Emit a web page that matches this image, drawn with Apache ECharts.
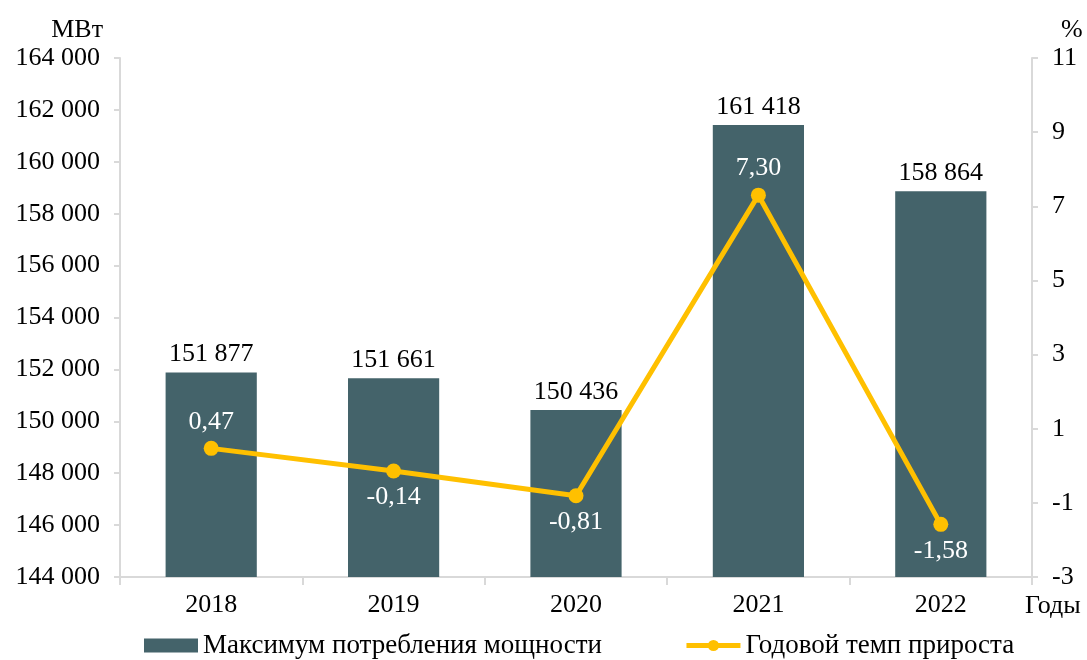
<!DOCTYPE html>
<html><head><meta charset="utf-8">
<script src="https://cdn.jsdelivr.net/npm/echarts@6/dist/echarts.min.js"></script>
<style>html,body{margin:0;padding:0;background:#fff}#c{width:1087px;height:660px}</style>
</head><body><div id="c"></div>
<script>
const categories = ['2018','2019','2020','2021','2022'];
const powerValues = [151877, 151661, 150436, 161418, 158864];
const growthValues = [0.47, -0.14, -0.81, 7.30, -1.58];
const growthLabelPos = ['top','bottom','bottom','top','bottom'];
const seriesNames = ['Максимум потребления мощности', 'Годовой темп прироста'];

const FONT = '"Liberation Serif","Times New Roman",serif';
const FS = 26;
const fmtThousands = v => String(Math.round(v)).replace(/\B(?=(\d{3})+(?!\d))/g, ' ');
const fmtComma = v => v.toFixed(2).replace('.', ',');
const axisLineStyle = {show:true, onZero:false, lineStyle:{color:'#d9d9d9', width:2}};

const chart = echarts.init(document.getElementById('c'));
chart.setOption({
  animation:false,
  textStyle:{fontFamily:FONT},
  grid:{left:120, right:55, top:58, bottom:83, containLabel:false, outerBoundsMode:'none'},
  legend:{
    top:632, left:144, padding:0, itemWidth:54, itemHeight:14, itemGap:82,
    textStyle:{fontFamily:FONT, fontSize:27, color:'#000'},
    data:[{name:seriesNames[0], icon:'rect'},
          {name:seriesNames[1], lineStyle:{width:5, color:'#ffc000'}}]
  },
  xAxis:{
    type:'category', data:categories,
    name:'Годы', nameLocation:'end', nameGap:-7,
    nameTextStyle:{fontFamily:FONT, fontSize:FS, color:'#000', verticalAlign:'top', padding:[16,0,0,0]},
    axisLine:axisLineStyle,
    axisTick:{show:true, length:8, lineStyle:{color:'#d9d9d9', width:2}},
    axisLabel:{fontFamily:FONT, fontSize:FS, color:'#000', margin:15}
  },
  yAxis:[{
    type:'value', min:144000, max:164000, interval:2000,
    name:'МВт', nameLocation:'end', nameGap:15,
    nameTextStyle:{fontFamily:FONT, fontSize:FS, color:'#000', align:'right', padding:[0,17,0,0]},
    axisLine:axisLineStyle,
    axisTick:{show:true, length:6, lineStyle:{color:'#d9d9d9', width:2}},
    splitLine:{show:false},
    axisLabel:{fontFamily:FONT, fontSize:FS, color:'#000', margin:20, formatter:fmtThousands}
  },{
    type:'value', min:-3, max:11, interval:2, position:'right',
    name:'%', nameLocation:'end', nameGap:15,
    nameTextStyle:{fontFamily:FONT, fontSize:FS, color:'#000', align:'left', padding:[0,0,0,29]},
    axisLine:axisLineStyle,
    axisTick:{show:true, length:6, lineStyle:{color:'#d9d9d9', width:2}},
    splitLine:{show:false},
    axisLabel:{fontFamily:FONT, fontSize:FS, color:'#000', margin:20}
  }],
  series:[{
    name:seriesNames[0], type:'bar', data:powerValues, barWidth:'50%',
    itemStyle:{color:'#44636a'},
    label:{show:true, position:'top', distance:5, fontFamily:FONT, fontSize:FS, color:'#000', formatter:p=>fmtThousands(p.value)}
  },{
    name:seriesNames[1], type:'line', yAxisIndex:1,
    data:growthValues.map((v,i)=>({value:v, label:{position:growthLabelPos[i]}})),
    symbol:'circle', symbolSize:15,
    lineStyle:{color:'#ffc000', width:5},
    itemStyle:{color:'#ffc000'},
    label:{show:true, distance:6, fontFamily:FONT, fontSize:FS, color:'#fff', formatter:p=>fmtComma(p.value)}
  }]
});
</script></body></html>
